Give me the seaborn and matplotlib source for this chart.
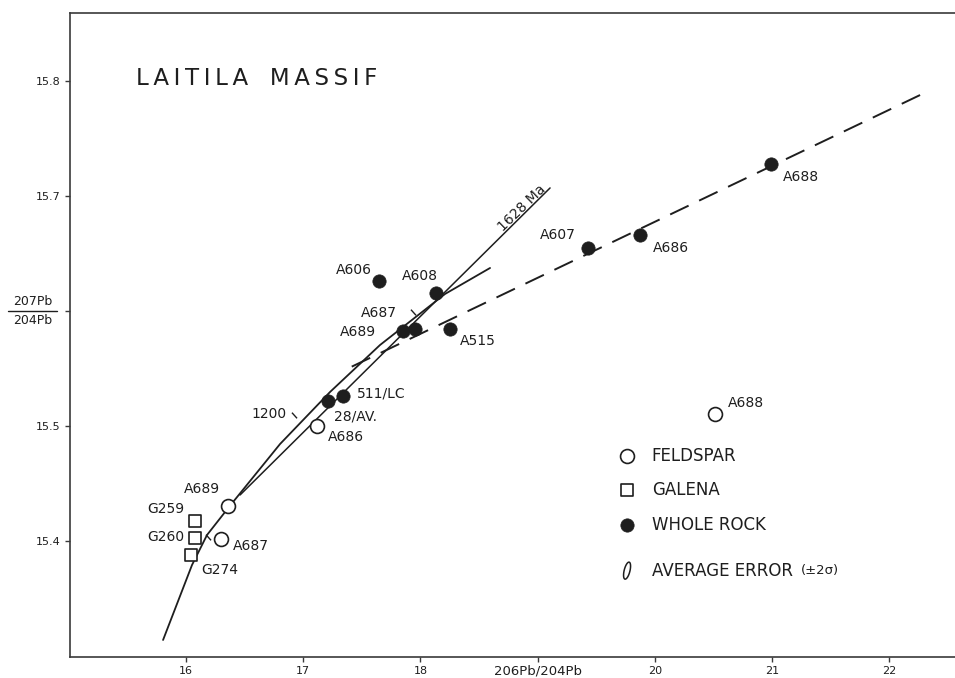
import numpy as np
import pandas as pd
import matplotlib
matplotlib.use("Agg")
import matplotlib.pyplot as plt
from matplotlib.lines import Line2D
from matplotlib.path import Path
import seaborn as sns

# ---- data -------------------------------------------------------------
# whole-rock samples (206Pb/204Pb, 207Pb/204Pb)
wr_labels = ["A606", "A608", "A687", "A689", "A515", "511/LC", "28/AV.", "A607", "A686", "A688"]
wr_x = [17.65, 18.13, 17.95, 17.85, 18.25, 17.34, 17.21, 19.43, 19.87, 20.99]
wr_y = [15.626, 15.616, 15.584, 15.583, 15.584, 15.526, 15.522, 15.655, 15.666, 15.728]

# feldspar samples
fs_labels = ["A689", "A687", "A686", "A688"]
fs_x = [16.36, 16.30, 17.12, 20.51]
fs_y = [15.430, 15.402, 15.500, 15.510]

# galena samples
gn_labels = ["G259", "G260", "G274"]
gn_x = [16.08, 16.08, 16.04]
gn_y = [15.417, 15.403, 15.388]

# lead growth curve
curve_x = [15.804, 16.051, 16.179, 16.367, 16.802, 17.229, 17.655, 18.210, 18.594]
curve_y = [15.3139, 15.3791, 15.4052, 15.4296, 15.4843, 15.5296, 15.5704, 15.6148, 15.6374]

# 1628 Ma reference isochron
iso_x = [16.461, 19.106]
iso_y = [15.440, 15.707]

# whole-rock regression line
reg_x = [17.414, 22.263]
reg_y = [15.5516, 15.7878]

# age ticks on the growth curve
tick_x = [16.188, 16.922, 17.937]
tick_y = [15.4035, 15.5096, 15.5991]

x_ticks = [16, 17, 18, 19, 20, 21, 22]
x_ticklabels = ["16", "17", "18", "", "20", "21", "22"]
y_ticks = [15.4, 15.5, 15.6, 15.7, 15.8]
y_ticklabels = ["15.4", "15.5", "", "15.7", "15.8"]

legend_labels = ["FELDSPAR", "GALENA", "WHOLE ROCK", "AVERAGE ERROR"]
error_note = "(\u00b12\u03c3)"

# ---- style ------------------------------------------------------------
sns.set_theme(style="ticks")
plt.rcParams["font.family"] = ["DejaVu Sans"]
ink = "#1e1e1e"
spine_c = "#3a3a3a"

fig = plt.figure(figsize=(9.55, 6.78), dpi=100)
fig.patch.set_facecolor("white")
ax = fig.add_axes([70 / 955, 21 / 678, 885 / 955, 644.3 / 678])
ax.set_facecolor("white")
ax.set_xlim(15.010, 22.561)
ax.set_ylim(15.2991, 15.8594)

# ---- lines ------------------------------------------------------------
sns.lineplot(x=curve_x, y=curve_y, sort=False, estimator=None, color=ink, lw=1.3, ax=ax)
sns.lineplot(x=iso_x, y=iso_y, sort=False, estimator=None, color=ink, lw=1.1, ax=ax)
sns.lineplot(x=reg_x, y=reg_y, sort=False, estimator=None, color=ink, lw=1.4,
             linestyle=(0, (10.5, 6)), ax=ax)

# small age ticks across the curve
sns.scatterplot(x=tick_x, y=tick_y, marker=(2, 0, 42), s=30, color=ink,
                edgecolor=ink, linewidth=1.0, ax=ax, zorder=3)

# ---- points -----------------------------------------------------------
sns.scatterplot(x=gn_x, y=gn_y, marker="s", s=74, color="white", edgecolor=ink,
                linewidth=1.2, ax=ax, zorder=4)
sns.scatterplot(x=fs_x, y=fs_y, marker="o", s=100, color="white", edgecolor=ink,
                linewidth=1.2, ax=ax, zorder=4)
sns.scatterplot(x=wr_x, y=wr_y, marker="o", s=92, color=ink, edgecolor=ink,
                linewidth=0.5, ax=ax, zorder=5)

# ---- point labels (offsets in pixels) ---------------------------------
wr_off = [(-26, 11.5), (-16, 17), (-36, 16), (-45, -1), (28, -12), (38, 3),
          (28, -16), (-30, 13), (31, -13), (30, -13)]
fs_off = [(-26, 17), (30, -7), (29, -11), (31, 11)]
gn_off = [(-30, 12), (-30, 1), (29, -15)]
lab_kw = dict(textcoords="offset pixels", ha="center", va="center",
              fontsize=10, color=ink)
for labs, xs, ys, offs in ((wr_labels, wr_x, wr_y, wr_off),
                           (fs_labels, fs_x, fs_y, fs_off),
                           (gn_labels, gn_x, gn_y, gn_off)):
    for t, x, y, o in zip(labs, xs, ys, offs):
        ax.annotate(t, (x, y), xytext=o, **lab_kw)

ax.text(16.86, 15.5104, "1200", ha="right", va="center", fontsize=10, color=ink)
ax.text(18.87, 15.689, "1628 Ma", rotation=44, rotation_mode="anchor",
        ha="center", va="center", fontsize=10, color=ink)

# ---- title -------------------------------------------------------------
title = "\u2009".join("LAITILA") + "   " + "\u2009".join("MASSIF")
ax.text(15.573, 15.8026, title, ha="left", va="center", fontsize=16.5, color=ink)

# ---- legend ------------------------------------------------------------
lx, tx = 19.763, 19.974
ly = [15.4742, 15.4443, 15.4139, 15.3742]
ax.scatter([lx], [ly[0]], marker="o", s=100, facecolor="white", edgecolor=ink, linewidth=1.2, zorder=5)
ax.scatter([lx], [ly[1]], marker="s", s=74, facecolor="white", edgecolor=ink, linewidth=1.2, zorder=5)
ax.scatter([lx], [ly[2]], marker="o", s=92, facecolor=ink, edgecolor=ink, linewidth=0.5, zorder=5)
t = np.linspace(0, 2 * np.pi, 60)
ex, ey = 0.33 * np.cos(t), np.sin(t)
rot = np.deg2rad(-14)
ell = Path(np.column_stack([ex * np.cos(rot) - ey * np.sin(rot),
                            ex * np.sin(rot) + ey * np.cos(rot)]))
ax.scatter([lx], [ly[3]], marker=ell, s=150, facecolor="none", edgecolor=ink, linewidth=1.1, zorder=5)
legend_texts = []
for yy, lab in zip(ly, legend_labels):
    legend_texts.append(ax.text(tx, yy, lab, ha="left", va="center", fontsize=12, color=ink))
ax.annotate(error_note, xy=(1, 0.5), xycoords=legend_texts[-1], xytext=(8, 0),
            textcoords="offset pixels", ha="left", va="center", fontsize=9.5, color=ink)

# ---- axes --------------------------------------------------------------
ax.set_xticks(x_ticks)
ax.set_xticklabels(x_ticklabels)
ax.set_yticks(y_ticks)
ax.set_yticklabels(y_ticklabels)
ax.tick_params(direction="out", length=3.5, width=1.0, colors=spine_c,
               labelsize=8, labelcolor=ink)
ax.tick_params(axis="x", pad=3)
ax.tick_params(axis="y", pad=3.5)
for side in ("left", "bottom", "top"):
    ax.spines[side].set_color(spine_c)
    ax.spines[side].set_linewidth(1.2)
ax.spines["right"].set_visible(False)
ax.set_xlabel("")
ax.set_ylabel("")

# x-axis quantity, centred on the 19 tick
ax.text(19, -0.021, "206Pb/204Pb", transform=ax.get_xaxis_transform(),
        ha="center", va="center", fontsize=9.5, color=ink)

# y-axis quantity as a stacked ratio at the 15.6 level
fig.text(33 / 955, 1 - 302 / 678, "207Pb", ha="center", va="center", fontsize=9, color=ink)
fig.text(33 / 955, 1 - 321 / 678, "204Pb", ha="center", va="center", fontsize=9, color=ink)
fig.add_artist(Line2D([8 / 955, 57 / 955], [1 - 311.5 / 678] * 2, color=ink, lw=1.0))

fig.savefig("out.png", dpi=100, facecolor="white")
